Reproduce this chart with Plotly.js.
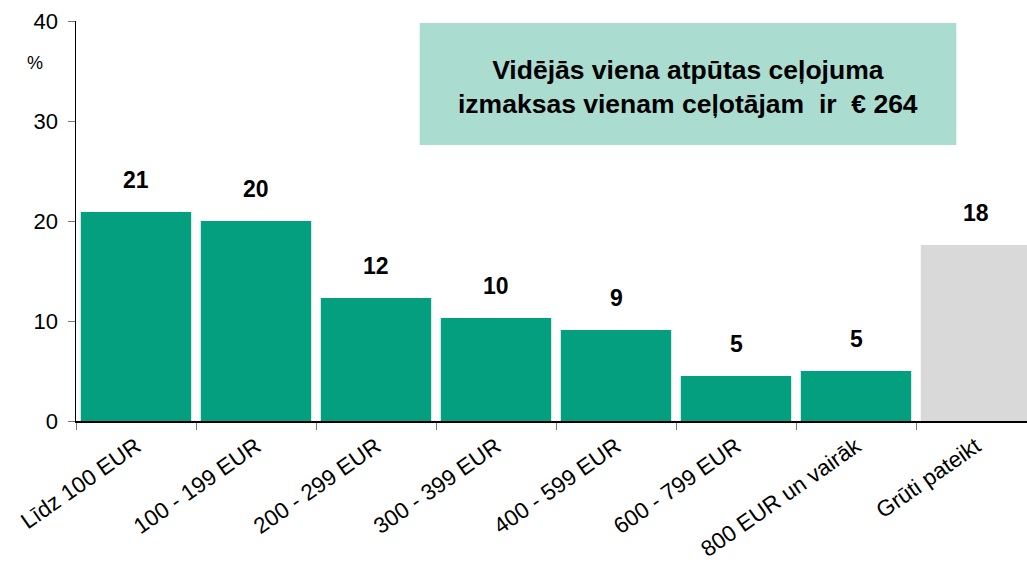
<!DOCTYPE html>
<html>
<head>
<meta charset="utf-8">
<script src="https://cdn.plot.ly/plotly-3.0.1.min.js"></script>
<style>
html,body{margin:0;padding:0;overflow:hidden;background:#fff;}
#chart{width:1040px;height:565px;}
</style>
</head>
<body>
<div id="chart"></div>
<script>
var categories = ["Līdz 100 EUR", "100 - 199 EUR", "200 - 299 EUR", "300 - 399 EUR", "400 - 599 EUR", "600 - 799 EUR", "800 EUR un vairāk", "Grūti pateikt"];
var values = [20.9, 20.0, 12.3, 10.3, 9.1, 4.5, 5.0, 17.6];
var labels = ["21", "20", "12", "10", "9", "5", "5", "18"];
var barColors = ["#049f7e", "#049f7e", "#049f7e", "#049f7e", "#049f7e", "#049f7e", "#049f7e", "#d9d9d9"];
var yTicks = [0, 10, 20, 30, 40];
var boxText = "Vidējās viena atpūtas ceļojuma<br>izmaksas vienam ceļotājam  ir  € 264";

var FONT = "Liberation Sans, Arial, sans-serif";

var trace = {
  type: "bar",
  x: categories,
  y: values,
  marker: {color: barColors, line: {width: 0}},
  hoverinfo: "none"
};

var annotations = categories.map(function(c, i){
  return {
    x: c, y: values[i], xref: "x", yref: "y",
    text: "<b>" + labels[i] + "</b>",
    showarrow: false, yanchor: "bottom", yshift: 17,
    font: {family: FONT, size: 23, color: "#000"}
  };
});
annotations.push({
  xref: "paper", yref: "paper", x: -0.0427, y: 0.895,
  xanchor: "center", yanchor: "middle",
  text: "%", showarrow: false,
  font: {family: FONT, size: 18, color: "#000"}
});
annotations.push({
  xref: "paper", yref: "paper", x: 0.6375, y: 0.836,
  xanchor: "center", yanchor: "middle",
  text: "<b>" + boxText + "</b>", showarrow: false, align: "center",
  font: {family: FONT, size: 26.5, color: "#000"}
});

var layout = {
  width: 1040, height: 565,
  margin: {l: 76, r: 4, t: 21, b: 144},
  paper_bgcolor: "#fff", plot_bgcolor: "#fff",
  bargap: 0.08,
  showlegend: false,
  font: {family: FONT, size: 20, color: "#000"},
  xaxis: {
    type: "category",
    tickangle: -35,
    showline: true, linecolor: "#000", linewidth: 1.5,
    ticks: "outside", ticklen: 7, tickcolor: "#777", tickson: "boundaries",
    ticklabelstandoff: 2,
    tickfont: {family: FONT, size: 22.5, color: "#000"},
    showgrid: false, fixedrange: true
  },
  yaxis: {
    range: [0, 40],
    tickvals: yTicks,
    showline: true, linecolor: "#000", linewidth: 1.5,
    ticks: "outside", ticklen: 7, tickcolor: "#777",
    ticklabelstandoff: 5,
    tickfont: {family: FONT, size: 22, color: "#000"},
    showgrid: false, zeroline: false, fixedrange: true
  },
  shapes: [{
    type: "rect", xref: "paper", yref: "paper",
    x0: 0.358, x1: 0.917, y0: 0.69, y1: 0.995,
    fillcolor: "#abdcd0", line: {width: 0}, layer: "below"
  }],
  annotations: annotations
};

Plotly.newPlot("chart", [trace], layout, {displayModeBar: false, staticPlot: true});
</script>
</body>
</html>
